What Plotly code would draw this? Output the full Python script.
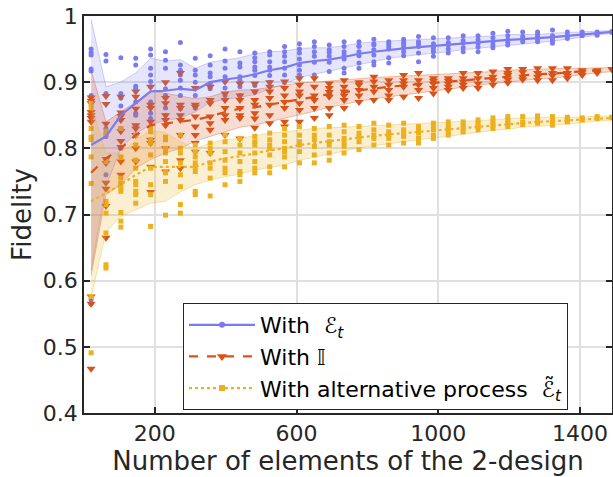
import plotly.graph_objects as go

# ---------------- data ----------------
n_elements = [20, 62, 104, 146, 188, 230, 272, 314, 356, 398, 440, 482, 524, 566,
              608, 650, 692, 734, 776, 818, 860, 902, 944, 986, 1028, 1070, 1112,
              1154, 1196, 1238, 1280, 1322, 1364, 1406, 1448, 1490]

# fidelity samples per design size (With E_t)
et_samples = [
    [0.95, 0.945, 0.941, 0.92, 0.917, 0.88, 0.87, 0.571, 0.565],
    [0.942, 0.932, 0.883, 0.83, 0.818, 0.78, 0.76],
    [0.937, 0.883, 0.876, 0.864, 0.85, 0.83, 0.80],
    [0.936, 0.926, 0.894, 0.89, 0.87, 0.853, 0.85, 0.82],
    [0.95, 0.941, 0.921, 0.911, 0.901, 0.893, 0.87, 0.853, 0.845],
    [0.946, 0.933, 0.921, 0.89, 0.88, 0.861, 0.85],
    [0.96, 0.926, 0.918, 0.911, 0.903, 0.891, 0.88, 0.86],
    [0.936, 0.918, 0.911, 0.90, 0.88, 0.861],
    [0.94, 0.926, 0.914, 0.908, 0.898, 0.89, 0.87],
    [0.95, 0.932, 0.921, 0.908, 0.901, 0.891, 0.88],
    [0.946, 0.929, 0.923, 0.908, 0.903, 0.893, 0.88],
    [0.944, 0.937, 0.931, 0.923, 0.918, 0.91, 0.895, 0.885],
    [0.946, 0.941, 0.931, 0.923, 0.918, 0.91, 0.90],
    [0.954, 0.946, 0.939, 0.931, 0.921, 0.911, 0.90],
    [0.958, 0.95, 0.944, 0.935, 0.926, 0.918, 0.911],
    [0.961, 0.954, 0.946, 0.939, 0.93, 0.911],
    [0.956, 0.949, 0.945, 0.939, 0.93, 0.916],
    [0.961, 0.954, 0.946, 0.941, 0.935, 0.921, 0.914],
    [0.961, 0.955, 0.954, 0.946, 0.94, 0.929, 0.921],
    [0.965, 0.958, 0.956, 0.949, 0.941, 0.931, 0.926],
    [0.961, 0.958, 0.954, 0.95, 0.937, 0.929],
    [0.965, 0.96, 0.956, 0.952, 0.946, 0.94],
    [0.969, 0.961, 0.958, 0.954, 0.944, 0.931],
    [0.967, 0.958, 0.954, 0.95, 0.946, 0.939],
    [0.967, 0.96, 0.956, 0.95, 0.944],
    [0.97, 0.963, 0.959, 0.952, 0.946],
    [0.97, 0.964, 0.959, 0.953, 0.946],
    [0.974, 0.967, 0.961, 0.956, 0.952],
    [0.977, 0.97, 0.964, 0.96, 0.956],
    [0.976, 0.969, 0.965, 0.961],
    [0.976, 0.972, 0.969, 0.964, 0.961],
    [0.979, 0.97, 0.967, 0.963, 0.959],
    [0.976, 0.971, 0.969, 0.966],
    [0.976, 0.973, 0.97],
    [0.976, 0.974, 0.971],
    [0.977, 0.976, 0.975],
]

# With identity
id_samples = [
    [0.877, 0.872, 0.868, 0.855, 0.85, 0.846, 0.84, 0.576, 0.565, 0.467],
    [0.879, 0.867, 0.837, 0.784, 0.778, 0.748, 0.739, 0.713, 0.665],
    [0.878, 0.854, 0.849, 0.843, 0.826, 0.811, 0.802, 0.78, 0.76],
    [0.886, 0.878, 0.86, 0.835, 0.83, 0.82, 0.80, 0.78],
    [0.893, 0.866, 0.861, 0.84, 0.813, 0.808, 0.772, 0.734],
    [0.90, 0.876, 0.868, 0.85, 0.843, 0.835, 0.80, 0.765],
    [0.914, 0.866, 0.861, 0.85, 0.843, 0.82, 0.782, 0.77],
    [0.891, 0.866, 0.863, 0.848, 0.833, 0.82, 0.808, 0.795],
    [0.893, 0.873, 0.868, 0.848, 0.838, 0.828, 0.793],
    [0.901, 0.883, 0.873, 0.861, 0.85, 0.843, 0.82],
    [0.898, 0.88, 0.873, 0.861, 0.85, 0.846, 0.815],
    [0.898, 0.886, 0.873, 0.866, 0.853, 0.845, 0.831],
    [0.90, 0.893, 0.886, 0.876, 0.866, 0.85, 0.838],
    [0.901, 0.891, 0.88, 0.87, 0.861, 0.84, 0.833],
    [0.906, 0.896, 0.886, 0.88, 0.868, 0.858, 0.84],
    [0.906, 0.893, 0.88, 0.873, 0.861, 0.846],
    [0.898, 0.891, 0.885, 0.878, 0.861, 0.85],
    [0.903, 0.893, 0.886, 0.88, 0.873, 0.861],
    [0.90, 0.896, 0.888, 0.88, 0.87],
    [0.908, 0.901, 0.893, 0.886, 0.873],
    [0.903, 0.896, 0.888, 0.88, 0.873],
    [0.911, 0.903, 0.898, 0.893, 0.878],
    [0.914, 0.903, 0.896, 0.888, 0.876],
    [0.906, 0.902, 0.898, 0.891, 0.883],
    [0.906, 0.902, 0.898, 0.893, 0.888],
    [0.914, 0.906, 0.901, 0.896, 0.891],
    [0.914, 0.906, 0.898, 0.891],
    [0.916, 0.908, 0.903, 0.896],
    [0.92, 0.914, 0.911, 0.904, 0.899],
    [0.92, 0.915, 0.908, 0.904],
    [0.921, 0.914, 0.908, 0.903],
    [0.921, 0.914, 0.91, 0.903],
    [0.921, 0.914, 0.91, 0.906],
    [0.918, 0.915, 0.911],
    [0.918, 0.914],
    [0.92, 0.919],
]

# With alternative process
alt_samples = [
    [0.868, 0.861, 0.83, 0.817, 0.813, 0.787, 0.747, 0.576, 0.491],
    [0.826, 0.821, 0.78, 0.72, 0.715, 0.702, 0.672, 0.624, 0.619],
    [0.83, 0.787, 0.755, 0.747, 0.74, 0.735, 0.703, 0.69, 0.681],
    [0.82, 0.805, 0.782, 0.77, 0.75, 0.745, 0.735, 0.73, 0.717],
    [0.832, 0.825, 0.813, 0.808, 0.79, 0.77, 0.745, 0.73, 0.682],
    [0.817, 0.813, 0.80, 0.793, 0.78, 0.763, 0.75, 0.699],
    [0.82, 0.80, 0.793, 0.778, 0.76, 0.742, 0.715, 0.702],
    [0.805, 0.795, 0.787, 0.778, 0.772, 0.765, 0.735, 0.73],
    [0.808, 0.80, 0.793, 0.778, 0.77, 0.755, 0.728],
    [0.82, 0.81, 0.795, 0.782, 0.77, 0.763, 0.745],
    [0.815, 0.805, 0.793, 0.78, 0.765, 0.76, 0.75],
    [0.818, 0.81, 0.805, 0.793, 0.78, 0.77, 0.763],
    [0.823, 0.813, 0.805, 0.80, 0.79, 0.772, 0.763],
    [0.83, 0.82, 0.81, 0.80, 0.795, 0.787, 0.772],
    [0.833, 0.82, 0.81, 0.805, 0.795, 0.778],
    [0.83, 0.82, 0.813, 0.803, 0.79, 0.778],
    [0.833, 0.82, 0.81, 0.805, 0.793, 0.782],
    [0.835, 0.825, 0.815, 0.81, 0.803, 0.793],
    [0.833, 0.823, 0.817, 0.81, 0.798],
    [0.838, 0.828, 0.82, 0.815, 0.805],
    [0.835, 0.825, 0.82, 0.815, 0.805],
    [0.838, 0.828, 0.823, 0.818, 0.808],
    [0.833, 0.828, 0.823, 0.815, 0.808],
    [0.838, 0.833, 0.828, 0.82, 0.815],
    [0.84, 0.833, 0.83, 0.825, 0.82],
    [0.84, 0.835, 0.83, 0.825],
    [0.843, 0.838, 0.833, 0.828],
    [0.846, 0.84, 0.835, 0.83],
    [0.848, 0.843, 0.838, 0.833],
    [0.848, 0.84, 0.836],
    [0.849, 0.843, 0.838],
    [0.848, 0.843, 0.84, 0.835],
    [0.847, 0.843, 0.84],
    [0.846, 0.843],
    [0.848, 0.845],
    [0.847, 0.846],
]

et_mean = [0.805, 0.818, 0.85, 0.868, 0.886, 0.887, 0.89, 0.888, 0.90, 0.904, 0.907, 0.912,
           0.918, 0.922, 0.929, 0.932, 0.934, 0.938, 0.943, 0.946, 0.949, 0.951, 0.953,
           0.955, 0.956, 0.958, 0.960, 0.962, 0.964, 0.965, 0.966, 0.968, 0.970, 0.972,
           0.974, 0.976]
et_std = [0.19, 0.075, 0.05, 0.046, 0.05, 0.045, 0.044, 0.033, 0.03, 0.03, 0.03, 0.031,
          0.028, 0.025, 0.022, 0.02, 0.018, 0.017, 0.016, 0.015, 0.013, 0.012, 0.012,
          0.011, 0.01, 0.009, 0.009, 0.008, 0.008, 0.007, 0.006, 0.006, 0.005, 0.004,
          0.003, 0.002]

id_mean = [0.763, 0.785, 0.80, 0.82, 0.835, 0.838, 0.84, 0.843, 0.848, 0.855, 0.86, 0.862,
           0.866, 0.87, 0.875, 0.878, 0.882, 0.885, 0.888, 0.891, 0.893, 0.895, 0.897,
           0.899, 0.901, 0.903, 0.905, 0.907, 0.909, 0.911, 0.912, 0.913, 0.915, 0.916,
           0.918, 0.919]
id_std = [0.155, 0.055, 0.055, 0.05, 0.052, 0.045, 0.04, 0.032, 0.03, 0.03, 0.028, 0.027,
          0.026, 0.025, 0.024, 0.022, 0.02, 0.018, 0.017, 0.016, 0.015, 0.014, 0.013,
          0.012, 0.011, 0.01, 0.01, 0.009, 0.009, 0.008, 0.007, 0.007, 0.006, 0.005,
          0.004, 0.003]

alt_mean = [0.72, 0.733, 0.745, 0.76, 0.772, 0.772, 0.772, 0.772, 0.78, 0.785, 0.788, 0.793,
            0.797, 0.80, 0.805, 0.808, 0.811, 0.814, 0.817, 0.819, 0.821, 0.823, 0.825,
            0.827, 0.829, 0.831, 0.833, 0.835, 0.837, 0.839, 0.84, 0.841, 0.842, 0.843,
            0.845, 0.846]
alt_std = [0.145, 0.06, 0.048, 0.053, 0.055, 0.052, 0.038, 0.027, 0.028, 0.028, 0.027, 0.026,
           0.026, 0.025, 0.023, 0.022, 0.02, 0.018, 0.016, 0.015, 0.014, 0.013, 0.012,
           0.011, 0.01, 0.009, 0.009, 0.008, 0.008, 0.007, 0.007, 0.006, 0.005, 0.004,
           0.004, 0.003]

y_ticks = [0.4, 0.5, 0.6, 0.7, 0.8, 0.9, 1.0]
y_ticklabels = ["0.4", "0.5", "0.6", "0.7", "0.8", "0.9", "1"]
x_ticks = [200, 600, 1000, 1400]

series_names = ["With\u00a0\u00a0ℰ<sub><i>t</i></sub>", "With 𝕀",
                "With alternative process\u00a0\u00a0ℰ̃<sub><i>t</i></sub>"]

# ---------------- styling ----------------
C_BLUE = "#7b7bef"
C_RED = "#D95319"
C_YEL = "#EDB120"
FILL = {C_BLUE: "rgba(123,123,239,0.2)", C_RED: "rgba(217,83,25,0.2)",
        C_YEL: "rgba(237,177,32,0.2)"}
EDGE = {C_BLUE: "rgba(123,123,239,0.35)", C_RED: "rgba(217,83,25,0.35)",
        C_YEL: "rgba(237,177,32,0.35)"}

series = [
    (et_samples, et_mean, et_std, C_BLUE, "circle", 5, "solid"),
    (id_samples, id_mean, id_std, C_RED, "triangle-down", 8, "dash"),
    (alt_samples, alt_mean, alt_std, C_YEL, "square", 5, "dot"),
]

fig = go.Figure()

# scatter of individual samples
for samples, mean, std, col, sym, sz, dash in series:
    xs = [x for x, s in zip(n_elements, samples) for _ in s]
    ys = [v for s in samples for v in s]
    fig.add_trace(go.Scatter(x=xs, y=ys, mode="markers", showlegend=False,
                             marker=dict(color=col, symbol=sym, size=sz, line=dict(width=0)),
                             hoverinfo="skip"))

# shaded bands (mean +/- std)
for samples, mean, std, col, sym, sz, dash in series:
    upper = [m + s for m, s in zip(mean, std)]
    lower = [m - s for m, s in zip(mean, std)]
    fig.add_trace(go.Scatter(x=n_elements, y=upper, mode="lines", showlegend=False,
                             line=dict(color=EDGE[col], width=1), hoverinfo="skip"))
    fig.add_trace(go.Scatter(x=n_elements, y=lower, mode="lines", showlegend=False,
                             fill="tonexty", fillcolor=FILL[col],
                             line=dict(color=EDGE[col], width=1), hoverinfo="skip"))

# mean lines
for samples, mean, std, col, sym, sz, dash in series:
    fig.add_trace(go.Scatter(x=n_elements, y=mean, mode="lines", showlegend=False,
                             line=dict(color=col, width=2.2, dash=dash)))

# legend entries
for (samples, mean, std, col, sym, sz, dash), name in zip(series, series_names):
    fig.add_trace(go.Scatter(x=[None], y=[None], mode="lines+markers", name=name,
                             marker=dict(color=col, symbol=sym, size=sz + 1),
                             line=dict(color=col, width=2.2, dash=dash)))

axis_common = dict(showline=True, linecolor="#262626", linewidth=1.5, mirror="ticks",
                   ticks="inside", ticklen=6, tickwidth=1.5, tickcolor="#262626",
                   showgrid=True, gridcolor="#e0e0e0", gridwidth=1.5, zeroline=False,
                   automargin=False)

fig.update_layout(
    width=613, height=477,
    margin=dict(l=84, r=1, t=16, b=64),
    plot_bgcolor="white", paper_bgcolor="white",
    font=dict(family="DejaVu Sans", size=22, color="#262626"),
    xaxis=dict(range=[0, 1490], tickvals=x_ticks,
               title=dict(text="Number of elements of the 2-design", standoff=2),
               **axis_common),
    yaxis=dict(range=[0.4, 1.0], tickvals=y_ticks, ticktext=y_ticklabels,
               title=dict(text="Fidelity", standoff=4), **axis_common),
    legend=dict(x=0.1875, y=0.277, xanchor="left", yanchor="top",
                bgcolor="white", bordercolor="#262626", borderwidth=1,
                font=dict(size=22, family="DejaVu Sans", color="#000000"),
                itemwidth=66, tracegroupgap=0, traceorder="normal"),
)

fig.write_html("out.html", config={"displayModeBar": False},
               post_script="document.body.style.margin='0';document.body.style.overflow='hidden';")
